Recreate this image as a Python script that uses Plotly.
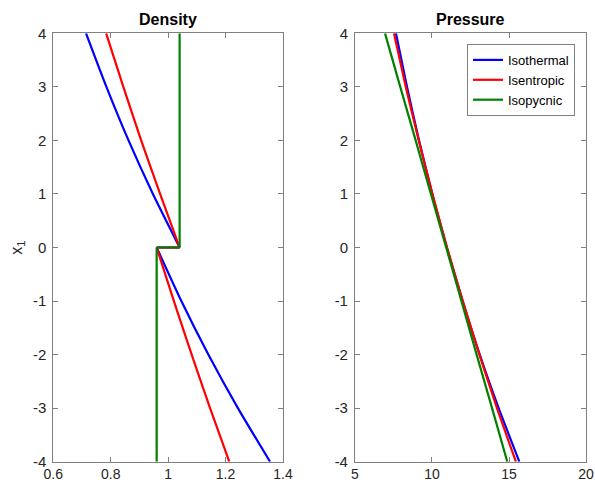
import plotly.graph_objects as go

# heights (x_1)
y_low = [-4, -3, -2, -1, 0]
y_up = [0, 1, 2, 3, 4]
y_all = [-4, -3, -2, -1, 0, 1, 2, 3, 4]
y_ticktext = ["-4", "-3", "-2", "-1", "0", "1", "2", "3", "4"]

# Density
rho_isothermal_low = [1.355, 1.243, 1.140, 1.046, 0.96]
rho_isothermal_up = [1.04, 0.947, 0.862, 0.785, 0.714]
rho_isentropic_low = [1.213, 1.146, 1.082, 1.020, 0.96]
rho_isentropic_up = [1.04, 0.972, 0.906, 0.844, 0.784]
rho_isopycnic_low = [0.96, 0.96, 0.96, 0.96, 0.96]
rho_isopycnic_up = [1.04, 1.04, 1.04, 1.04, 1.04]

# Pressure
p_isothermal = [15.67, 14.33, 13.10, 11.99, 10.96, 10.02, 9.16, 8.38, 7.66]
p_isentropic = [15.45, 14.22, 13.08, 12.00, 10.98, 10.03, 9.14, 8.30, 7.53]
p_isopycnic = [14.89, 13.90, 12.90, 11.91, 10.92, 9.93, 8.94, 7.94, 6.95]

names = ["Isothermal", "Isentropic", "Isopycnic"]
colors = ["#0000ff", "#ff0000", "#008000"]
LW = 2.2
FONT = "Liberation Sans, Arial, Helvetica"

fig = go.Figure()

dens = [
    (rho_isothermal_low, rho_isothermal_up),
    (rho_isentropic_low, rho_isentropic_up),
    (rho_isopycnic_low, rho_isopycnic_up),
]
for (lo, up), c, n in zip(dens, colors, names):
    fig.add_trace(go.Scatter(x=lo, y=y_low, mode="lines", line=dict(color=c, width=LW, shape="spline", smoothing=0.6),
                             showlegend=False, xaxis="x", yaxis="y", name=n))
    fig.add_trace(go.Scatter(x=[lo[-1], up[0]], y=[y_low[-1], y_up[0]], mode="lines",
                             line=dict(color=c, width=LW), showlegend=False, xaxis="x", yaxis="y", name=n))
    fig.add_trace(go.Scatter(x=up, y=y_up, mode="lines", line=dict(color=c, width=LW, shape="spline", smoothing=0.6),
                             showlegend=False, xaxis="x", yaxis="y", name=n))

for p, c, n in zip([p_isothermal, p_isentropic, p_isopycnic], colors, names):
    fig.add_trace(go.Scatter(x=p, y=y_all, mode="lines",
                             line=dict(color=c, width=LW, shape="spline", smoothing=0.6), showlegend=True,
                             xaxis="x2", yaxis="y2", name=n))

axis_common = dict(showline=True, linecolor="#808080", linewidth=1, mirror="ticks",
                   ticks="inside", ticklen=5, tickcolor="#808080", showgrid=False,
                   zeroline=False, automargin=False)
yfont = dict(family=FONT, size=15, color="#262626")
xfont = dict(family=FONT, size=14, color="#262626")

fig.update_layout(
    width=595, height=483,
    margin=dict(l=0, r=0, t=0, b=0),
    plot_bgcolor="white", paper_bgcolor="white",
    xaxis=dict(domain=[0.0896, 0.4756], range=[0.6, 1.4],
               tickvals=[0.6, 0.8, 1, 1.2, 1.4], ticktext=["0.6", "0.8", "1", "1.2", "1.4"],
               anchor="y", ticklabelstandoff=0, tickfont=xfont, **axis_common),
    yaxis=dict(domain=[0.0441, 0.931], range=[-4, 4], tickvals=y_all, ticktext=y_ticktext,
               anchor="x", ticklabelstandoff=3, tickfont=yfont, **axis_common),
    xaxis2=dict(domain=[0.5966, 0.9849], range=[5, 20], tickvals=[5, 10, 15, 20],
                ticktext=["5", "10", "15", "20"], anchor="y2", ticklabelstandoff=0,
                tickfont=xfont, **axis_common),
    yaxis2=dict(domain=[0.0441, 0.931], range=[-4, 4], tickvals=y_all, ticktext=y_ticktext,
                anchor="x2", ticklabelstandoff=3, tickfont=yfont, **axis_common),
    legend=dict(x=0.9664, y=0.909, xanchor="right", yanchor="top",
                bordercolor="#808080", borderwidth=1, bgcolor="white",
                font=dict(family=FONT, size=13, color="black"),
                tracegroupgap=0, itemwidth=30),
    annotations=[
        dict(text="<b>Density</b>", x=0.2826, y=0.937, xref="paper", yref="paper",
             xanchor="center", yanchor="bottom", showarrow=False,
             font=dict(family=FONT, size=16, color="black")),
        dict(text="<b>Pressure</b>", x=0.7907, y=0.937, xref="paper", yref="paper",
             xanchor="center", yanchor="bottom", showarrow=False,
             font=dict(family=FONT, size=16, color="black")),
        dict(text="x<sub>1</sub>", x=0.029, y=0.4876, xref="paper", yref="paper",
             xanchor="center", yanchor="middle", showarrow=False, textangle=-90,
             font=dict(family=FONT, size=16, color="#262626")),
    ],
)

fig.write_html("out.html")
